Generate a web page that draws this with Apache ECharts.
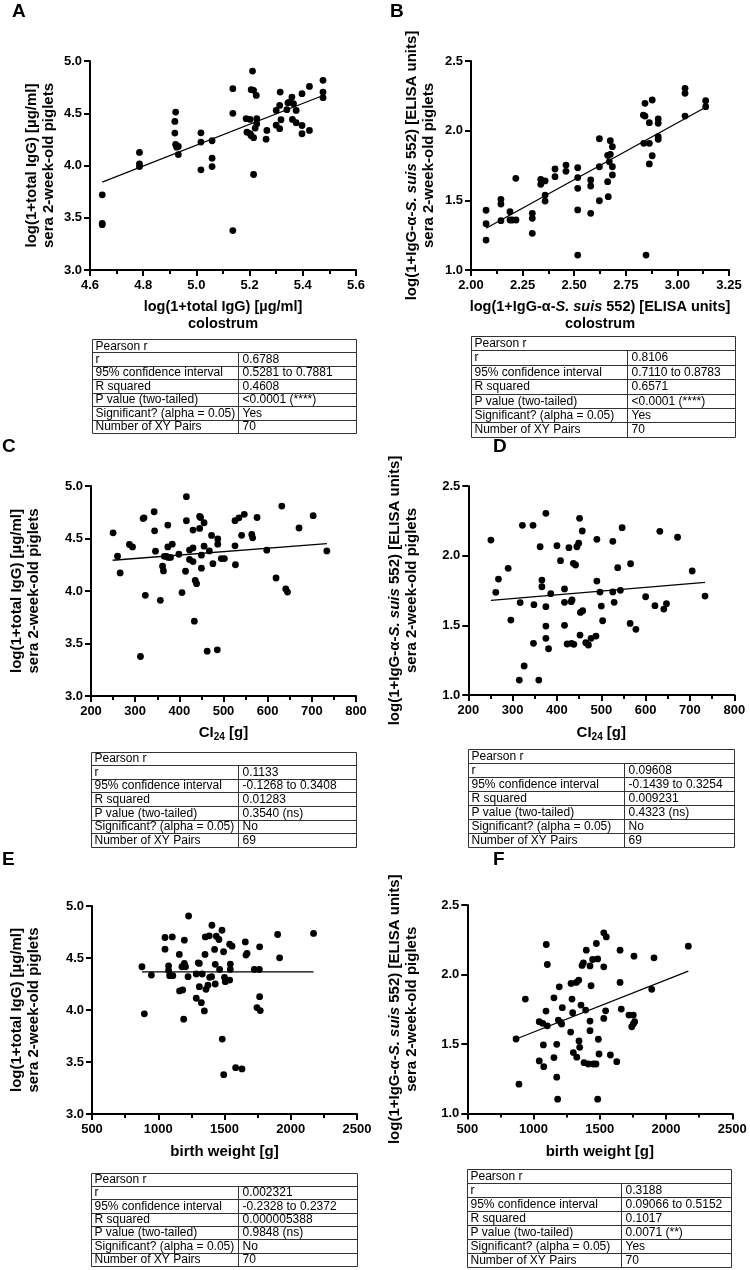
<!DOCTYPE html>
<html>
<head>
<meta charset="utf-8">
<title>IgG correlations</title>
<script src="https://cdn.jsdelivr.net/npm/echarts@6/dist/echarts.min.js"></script>
<style>
  html, body { margin: 0; padding: 0; background: #fff; }
  #chart { width: 750px; height: 1270px; }
</style>
</head>
<body>
<div id="chart"></div>
<script>
// ---- data ----
// A: colostrum total IgG vs serum total IgG
var panelA = [
  [4.646,3.719],[4.646,3.434],[4.646,3.447],
  [4.786,4.125],[4.786,4.016],[4.786,3.99],
  [4.922,4.511],[4.919,4.422],[4.919,4.31],[4.922,4.201],[4.932,4.182],[4.926,4.175],[4.932,4.105],
  [5.017,4.313],[5.017,4.224],[5.017,3.959],
  [5.059,4.237],[5.059,4.07],[5.059,3.99],
  [5.137,4.735],[5.137,4.499],[5.137,3.377],
  [5.211,4.904],[5.206,4.726],[5.215,4.719],[5.225,4.671],
  [5.187,4.448],[5.202,4.441],[5.19,4.319],[5.202,4.304],[5.215,4.266],[5.206,4.285],
  [5.227,4.448],[5.227,4.40],[5.221,4.358],[5.215,3.914],
  [5.265,4.336],[5.262,4.252],
  [5.315,4.703],[5.313,4.575],[5.30,4.527],[5.318,4.438],[5.30,4.386],[5.313,4.352],
  [5.34,4.534],[5.35,4.607],[5.359,4.655],[5.365,4.591],[5.375,4.527],[5.344,4.60],
  [5.361,4.441],[5.375,4.409],
  [5.397,4.687],[5.397,4.383],[5.397,4.304],
  [5.425,4.757],[5.425,4.336],
  [5.476,4.815],[5.476,4.703],[5.476,4.649]
];
var fitA = [[4.646,3.84],[5.476,4.67]];

// B: colostrum anti-S. suis IgG vs serum anti-S. suis IgG
var panelB = [
  [2.073,1.429],[2.073,1.332],[2.073,1.215],
  [2.145,1.507],[2.145,1.473],[2.145,1.354],
  [2.189,1.418],[2.189,1.359],[2.20,1.359],[2.218,1.359],
  [2.217,1.658],
  [2.297,1.407],[2.297,1.371],[2.297,1.263],
  [2.338,1.651],[2.338,1.615],[2.359,1.639],[2.359,1.538],[2.359,1.495],
  [2.407,1.725],[2.407,1.670],
  [2.46,1.753],[2.46,1.708],
  [2.517,1.734],[2.517,1.663],[2.517,1.586],[2.517,1.431],
  [2.58,1.646],[2.58,1.603],[2.58,1.407],
  [2.622,1.942],[2.622,1.741],[2.622,1.497],
  [2.675,1.928],[2.685,1.885],[2.662,1.823],[2.675,1.83],[2.67,1.777],[2.685,1.741],[2.685,1.682],[2.662,1.634],[2.665,1.526],
  [2.835,2.112],[2.843,2.105],[2.843,2.196],[2.837,1.909],
  [2.864,2.057],[2.864,1.909],[2.864,1.761],[2.878,2.22],[2.878,1.82],
  [2.907,2.084],[2.907,2.053],[2.907,1.957],[2.907,1.938],
  [3.037,2.304],[3.037,2.268],[3.037,2.105],
  [3.137,2.215],[3.137,2.172],
  [2.517,1.107],[2.848,1.107]
];
var fitB = [[2.073,1.30],[3.137,2.168]];

// C: CI24 vs serum total IgG
var panelC = [
  [250,4.554],[260,4.331],[266,4.172],[287,4.443],[294,4.42],[318,4.69],[320,4.697],[323,3.959],[343,4.755],[344,4.573],
  [346,4.379],[357,3.911],[362,4.236],[364,4.191],[366,4.33],[371,4.33],[375,4.32],[380,4.32],[374,4.628],[374,4.42],
  [384,4.446],[399,4.35],[406,3.985],[414,4.188],[416,4.898],[416,4.669],[423,4.39],[431,4.41],[423,4.30],[431,4.28],
  [431,4.58],[436,4.10],[439,4.07],[434,3.713],[446,4.71],[448,4.70],[446,4.596],[450,4.217],[450,4.341],[456,4.65],
  [456,4.427],[468,4.382],[473,4.529],[476,4.26],[487,4.496],[487,4.446],[495,4.309],[502,4.309],[526,4.43],[526,4.67],
  [527,4.25],[535,4.697],[547,4.73],[541,4.53],[564,4.538],[566,4.506],[576,4.70],[598,4.389],[619,4.124],[632,4.809],
  [641,4.02],[645,3.99],[671,4.60],[703,4.717],[734,4.382],[312,3.376],[463,3.427],[486,3.44]
];
var fitC = [[249,4.293],[734,4.452]];

// D: CI24 vs serum anti-S. suis IgG
var panelD = [
  [251,2.112],[262,1.737],[268,1.832],[290,1.909],[296,1.538],[317,1.663],[322,2.218],[346,2.218],[348,1.648],[362,2.064],
  [366,1.825],[366,1.777],[375,2.304],[375,1.634],[375,1.495],[375,1.407],[386,1.727],[400,2.071],[408,1.964],[417,1.761],
  [417,1.665],[417,1.50],[427,2.057],[432,1.67],[434,1.682],[437,1.945],[442,1.933],[445,2.064],[449,2.089],[451,2.268],
  [457,2.177],[453,1.593],[458,1.605],[452,1.43],[477,1.407],[488,1.423],[490,2.117],[490,1.818],[497,1.739],[500,1.638],
  [503,1.533],[526,2.103],[526,1.74],[529,1.665],[537,1.914],[543,1.751],[547,2.201],[566,1.942],[565,1.514],[578,1.471],
  [600,1.705],[621,1.641],[632,2.175],[641,1.617],[647,1.655],[672,2.132],[705,1.89],[734,1.71],[347,1.371],[326,1.208],
  [315,1.107],[359,1.107],[381,1.332],[423,1.366],[433,1.371],[438,1.364],[465,1.375],[471,1.359]
];
var fitD = [[251,1.679],[734,1.809]];

// E: birth weight vs serum total IgG
var panelE = [
  [877,4.416],[895,3.963],[948,4.336],[1051,4.585],[1051,4.697],[1106,4.703],[1078,4.425],[1078,4.38],[1086,4.33],[1110,4.33],
  [1159,4.534],[1161,4.183],[1184,4.193],[1192,3.912],[1197,4.671],[1179,4.416],[1197,4.448],[1206,4.416],[1225,4.32],[1229,4.904],
  [1287,4.346],[1332,4.346],[1302,4.454],[1310,4.448],[1287,4.113],[1325,4.07],[1348,3.991],[1310,4.224],[1353,4.534],[1355,4.703],
  [1385,4.713],[1360,4.199],[1375,4.238],[1388,4.314],[1403,4.32],[1405,4.815],[1425,4.582],[1430,4.439],[1430,4.25],[1438,4.71],
  [1458,4.678],[1463,4.39],[1481,4.767],[1483,3.72],[1493,4.56],[1500,4.314],[1506,4.272],[1539,4.288],[1544,4.442],[1544,4.39],
  [1539,4.633],[1557,4.614],[1657,4.655],[1662,4.528],[1670,4.544],[1725,4.39],[1763,4.39],[1765,4.128],[1745,4.023],[1770,3.994],
  [1765,4.607],[1901,4.726],[1916,4.502],[2172,4.736],[1494,3.378],[1584,3.445],[1632,3.433]
];
var fitE = [[877,4.367],[2172,4.367]];

// F: birth weight vs serum anti-S. suis IgG
var panelF = [
  [868,1.536],[938,1.823],[1043,1.66],[1069,1.649],[1104,1.631],[1096,2.216],[1104,2.072],[1094,1.737],[1074,1.493],[1043,1.378],
  [1077,1.337],[1154,1.832],[1154,1.402],[1175,1.498],[1194,1.911],[1187,1.672],[1205,1.656],[1212,1.644],[1217,1.761],[1280,1.586],
  [1283,1.936],[1323,1.943],[1341,1.959],[1290,1.823],[1295,1.725],[1300,1.438],[1326,1.405],[1343,1.522],[1348,1.476],[1358,1.78],
  [1366,2.065],[1376,2.084],[1393,1.744],[1398,2.175],[1426,1.665],[1426,1.596],[1434,1.919],[1426,2.062],[1446,2.108],[1484,2.112],
  [1474,2.223],[1489,1.534],[1494,1.428],[1530,2.30],[1549,2.27],[1530,2.055],[1530,1.684],[1544,1.739],[1580,1.421],[1628,1.373],
  [1653,2.175],[1653,1.943],[1662,1.751],[1720,1.708],[1753,1.708],[1741,1.624],[1753,1.644],[1763,1.66],[1758,2.132],[1892,1.893],
  [1909,2.12],[2168,2.204],[890,1.211],[1175,1.261],[1182,1.103],[1381,1.366],[1413,1.356],[1451,1.356],[1471,1.356],[1484,1.103]
];
var fitF = [[868,1.536],[2168,2.024]];

// Pearson tables
var tableHeader = 'Pearson r';
var tableLabels = ['r', '95% confidence interval', 'R squared', 'P value (two-tailed)', 'Significant? (alpha = 0.05)', 'Number of XY Pairs'];
var tableA = ['0.6788', '0.5281 to 0.7881', '0.4608', '<0.0001 (****)', 'Yes', '70'];
var tableB = ['0.8106', '0.7110 to 0.8783', '0.6571', '<0.0001 (****)', 'Yes', '70'];
var tableC = ['0.1133', '-0.1268 to 0.3408', '0.01283', '0.3540 (ns)', 'No', '69'];
var tableD = ['0.09608', '-0.1439 to 0.3254', '0.009231', '0.4323 (ns)', 'No', '69'];
var tableE = ['0.002321', '-0.2328 to 0.2372', '0.000005388', '0.9848 (ns)', 'No', '70'];
var tableF = ['0.3188', '0.09066 to 0.5152', '0.1017', '0.0071 (**)', 'Yes', '70'];

// axis titles
var yTotal = 'log(1+total IgG) [µg/ml]\nsera 2-week-old piglets';
var ySuis = 'log(1+IgG-α-{i|S. suis} 552) [ELISA units]\nsera 2-week-old piglets';

// ---- layout ----
var FONT = "'Liberation Sans', Arial, Helvetica, sans-serif";

var panels = [
  { letter: 'A', lx: 12, ly: 12, data: panelA, fit: fitA,
    grid: { left: 90, top: 61, width: 266, height: 209 },
    x: { min: 4.6, max: 5.6, interval: 0.2, dec: 1 }, y: { min: 3, max: 5, interval: 0.5 },
    xName: 'log(1+total IgG) [µg/ml]\ncolostrum', xSize: 14.5, xGap: 28, yName: yTotal, yGap: 33,
    table: { left: 91.5, top: 339, width: 264, div: 238, rowH: 13.45 }, vals: tableA },
  { letter: 'B', lx: 390, ly: 12, data: panelB, fit: fitB,
    grid: { left: 471, top: 61, width: 258, height: 209 },
    x: { min: 2.0, max: 3.25, interval: 0.25, dec: 2 }, y: { min: 1, max: 2.5, interval: 0.5 },
    xName: 'log(1+IgG-α-{i|S. suis} 552) [ELISA units]\ncolostrum', xSize: 14.5, xGap: 28, yName: ySuis, yGap: 34,
    table: { left: 470.5, top: 336, width: 264, div: 627, rowH: 14.4 }, vals: tableB },
  { letter: 'C', lx: 2, ly: 447, data: panelC, fit: fitC,
    grid: { left: 91, top: 486, width: 265, height: 210 },
    x: { min: 200, max: 800, interval: 100, dec: 0 }, y: { min: 3, max: 5, interval: 0.5 },
    xName: 'CI{sub|24} [g]', xSize: 15, xGap: 28, yName: yTotal, yGap: 49,
    table: { left: 91, top: 751.7, width: 265, div: 238.3, rowH: 13.57 }, vals: tableC },
  { letter: 'D', lx: 493, ly: 447, data: panelD, fit: fitD,
    grid: { left: 468.3, top: 486, width: 266, height: 209 },
    x: { min: 200, max: 800, interval: 100, dec: 0 }, y: { min: 1, max: 2.5, interval: 0.5 },
    xName: 'CI{sub|24} [g]', xSize: 15, xGap: 29, yName: ySuis, yGap: 48,
    table: { left: 468.3, top: 749, width: 266, div: 624.3, rowH: 14.04 }, vals: tableD },
  { letter: 'E', lx: 2, ly: 860, data: panelE, fit: fitE,
    grid: { left: 92, top: 906, width: 265, height: 208 },
    x: { min: 500, max: 2500, interval: 500, dec: 0 }, y: { min: 3, max: 5, interval: 0.5 },
    xName: 'birth weight [g]', xSize: 15, xGap: 29, yName: yTotal, yGap: 50,
    table: { left: 90.7, top: 1172.7, width: 266, div: 238.3, rowH: 13.3 }, vals: tableE },
  { letter: 'F', lx: 493, ly: 860, data: panelF, fit: fitF,
    grid: { left: 467.3, top: 905, width: 265, height: 208.5 },
    x: { min: 500, max: 2500, interval: 500, dec: 0 }, y: { min: 1, max: 2.5, interval: 0.5 },
    xName: 'birth weight [g]', xSize: 15, xGap: 30, yName: ySuis, yGap: 47,
    table: { left: 467.3, top: 1169.3, width: 264, div: 621, rowH: 14 }, vals: tableF }
];

function titleStyle(size, lh) {
  return {
    color: '#000', fontFamily: FONT, fontWeight: 'bold', fontSize: size, lineHeight: lh,
    rich: {
      i: { fontStyle: 'italic', fontWeight: 'bold', fontFamily: FONT, fontSize: size, color: '#000', lineHeight: lh },
      sub: { fontWeight: 'bold', fontFamily: FONT, fontSize: 10, color: '#000', lineHeight: 10, verticalAlign: 'bottom' }
    }
  };
}

var grids = [], xAxes = [], yAxes = [], series = [], graphics = [];

panels.forEach(function (p, i) {
  grids.push(p.grid);

  xAxes.push({
    gridIndex: i, type: 'value', min: p.x.min, max: p.x.max, interval: p.x.interval,
    axisLine: { show: true, onZero: false, lineStyle: { color: '#000', width: 2 } },
    axisTick: { show: true, length: 6, lineStyle: { color: '#000', width: 2 } },
    minorTick: { show: true, splitNumber: 2, length: 4, lineStyle: { color: '#000', width: 2 } },
    splitLine: { show: false },
    axisLabel: {
      color: '#000', fontFamily: FONT, fontWeight: 'bold', fontSize: 13, margin: 9,
      formatter: (function (d) { return function (v) { return v.toFixed(d); }; })(p.x.dec)
    },
    name: p.xName, nameLocation: 'middle', nameGap: p.xGap,
    nameTextStyle: titleStyle(p.xSize, p.letter === 'C' || p.letter === 'D' ? 18 : 17)
  });

  yAxes.push({
    gridIndex: i, type: 'value', min: p.y.min, max: p.y.max, interval: p.y.interval,
    axisLine: { show: true, onZero: false, lineStyle: { color: '#000', width: 2 } },
    axisTick: { show: true, length: 6, lineStyle: { color: '#000', width: 2 } },
    splitLine: { show: false },
    axisLabel: {
      color: '#000', fontFamily: FONT, fontWeight: 'bold', fontSize: 13, margin: 8,
      formatter: function (v) { return v.toFixed(1); }
    },
    name: p.yName, nameLocation: 'middle', nameRotate: 90, nameGap: p.yGap,
    nameTextStyle: titleStyle(15, 17)
  });

  series.push({
    type: 'scatter', xAxisIndex: i, yAxisIndex: i, data: p.data,
    symbol: 'circle', symbolSize: 6.8, itemStyle: { color: '#000', opacity: 1 }, silent: true, z: 3
  });
  series.push({
    type: 'line', xAxisIndex: i, yAxisIndex: i, data: p.fit,
    symbol: 'none', lineStyle: { color: '#000', width: 1.3, opacity: 1 }, silent: true, z: 2
  });

  // panel letter
  graphics.push({
    type: 'text', x: p.lx, y: p.ly,
    style: { text: p.letter, font: 'bold 19px ' + FONT, fill: '#000',
             align: 'left', verticalAlign: 'middle', textAlign: 'left', textVerticalAlign: 'middle' }
  });

  // Pearson table
  var t = p.table, rows = 7;
  var L = Math.round(t.left) + 0.5, T = Math.round(t.top) + 0.5;
  var R = Math.round(t.left + t.width) + 0.5, B = Math.round(t.top + rows * t.rowH) + 0.5;
  var D = Math.round(t.div) + 0.5;
  var stroke = { stroke: '#333', lineWidth: 1, fill: null };
  graphics.push({ type: 'rect', shape: { x: L, y: T, width: R - L, height: B - T }, style: stroke, silent: true });
  for (var r = 1; r < rows; r++) {
    var yy = Math.round(t.top + r * t.rowH) + 0.5;
    graphics.push({ type: 'line', shape: { x1: L, y1: yy, x2: R, y2: yy }, style: stroke, silent: true });
  }
  graphics.push({ type: 'line', shape: { x1: D, y1: Math.round(t.top + t.rowH) + 0.5, x2: D, y2: B }, style: stroke, silent: true });

  var txt = function (x, y, s) {
    return { type: 'text', x: x, y: y, silent: true,
             style: { text: s, font: '12px ' + FONT, fill: '#000',
                      align: 'left', verticalAlign: 'middle', textAlign: 'left', textVerticalAlign: 'middle' } };
  };
  graphics.push(txt(L + 3, t.top + 0.5 * t.rowH + 0.5, tableHeader));
  for (var k = 0; k < 6; k++) {
    var cy = t.top + (k + 1.5) * t.rowH + 0.5;
    graphics.push(txt(L + 3, cy, tableLabels[k]));
    graphics.push(txt(D + 4, cy, p.vals[k]));
  }
});

var chart = echarts.init(document.getElementById('chart'), null, { renderer: 'canvas' });
chart.setOption({
  backgroundColor: '#fff',
  animation: false,
  grid: grids,
  xAxis: xAxes,
  yAxis: yAxes,
  series: series,
  graphic: graphics
});
</script>
</body>
</html>
